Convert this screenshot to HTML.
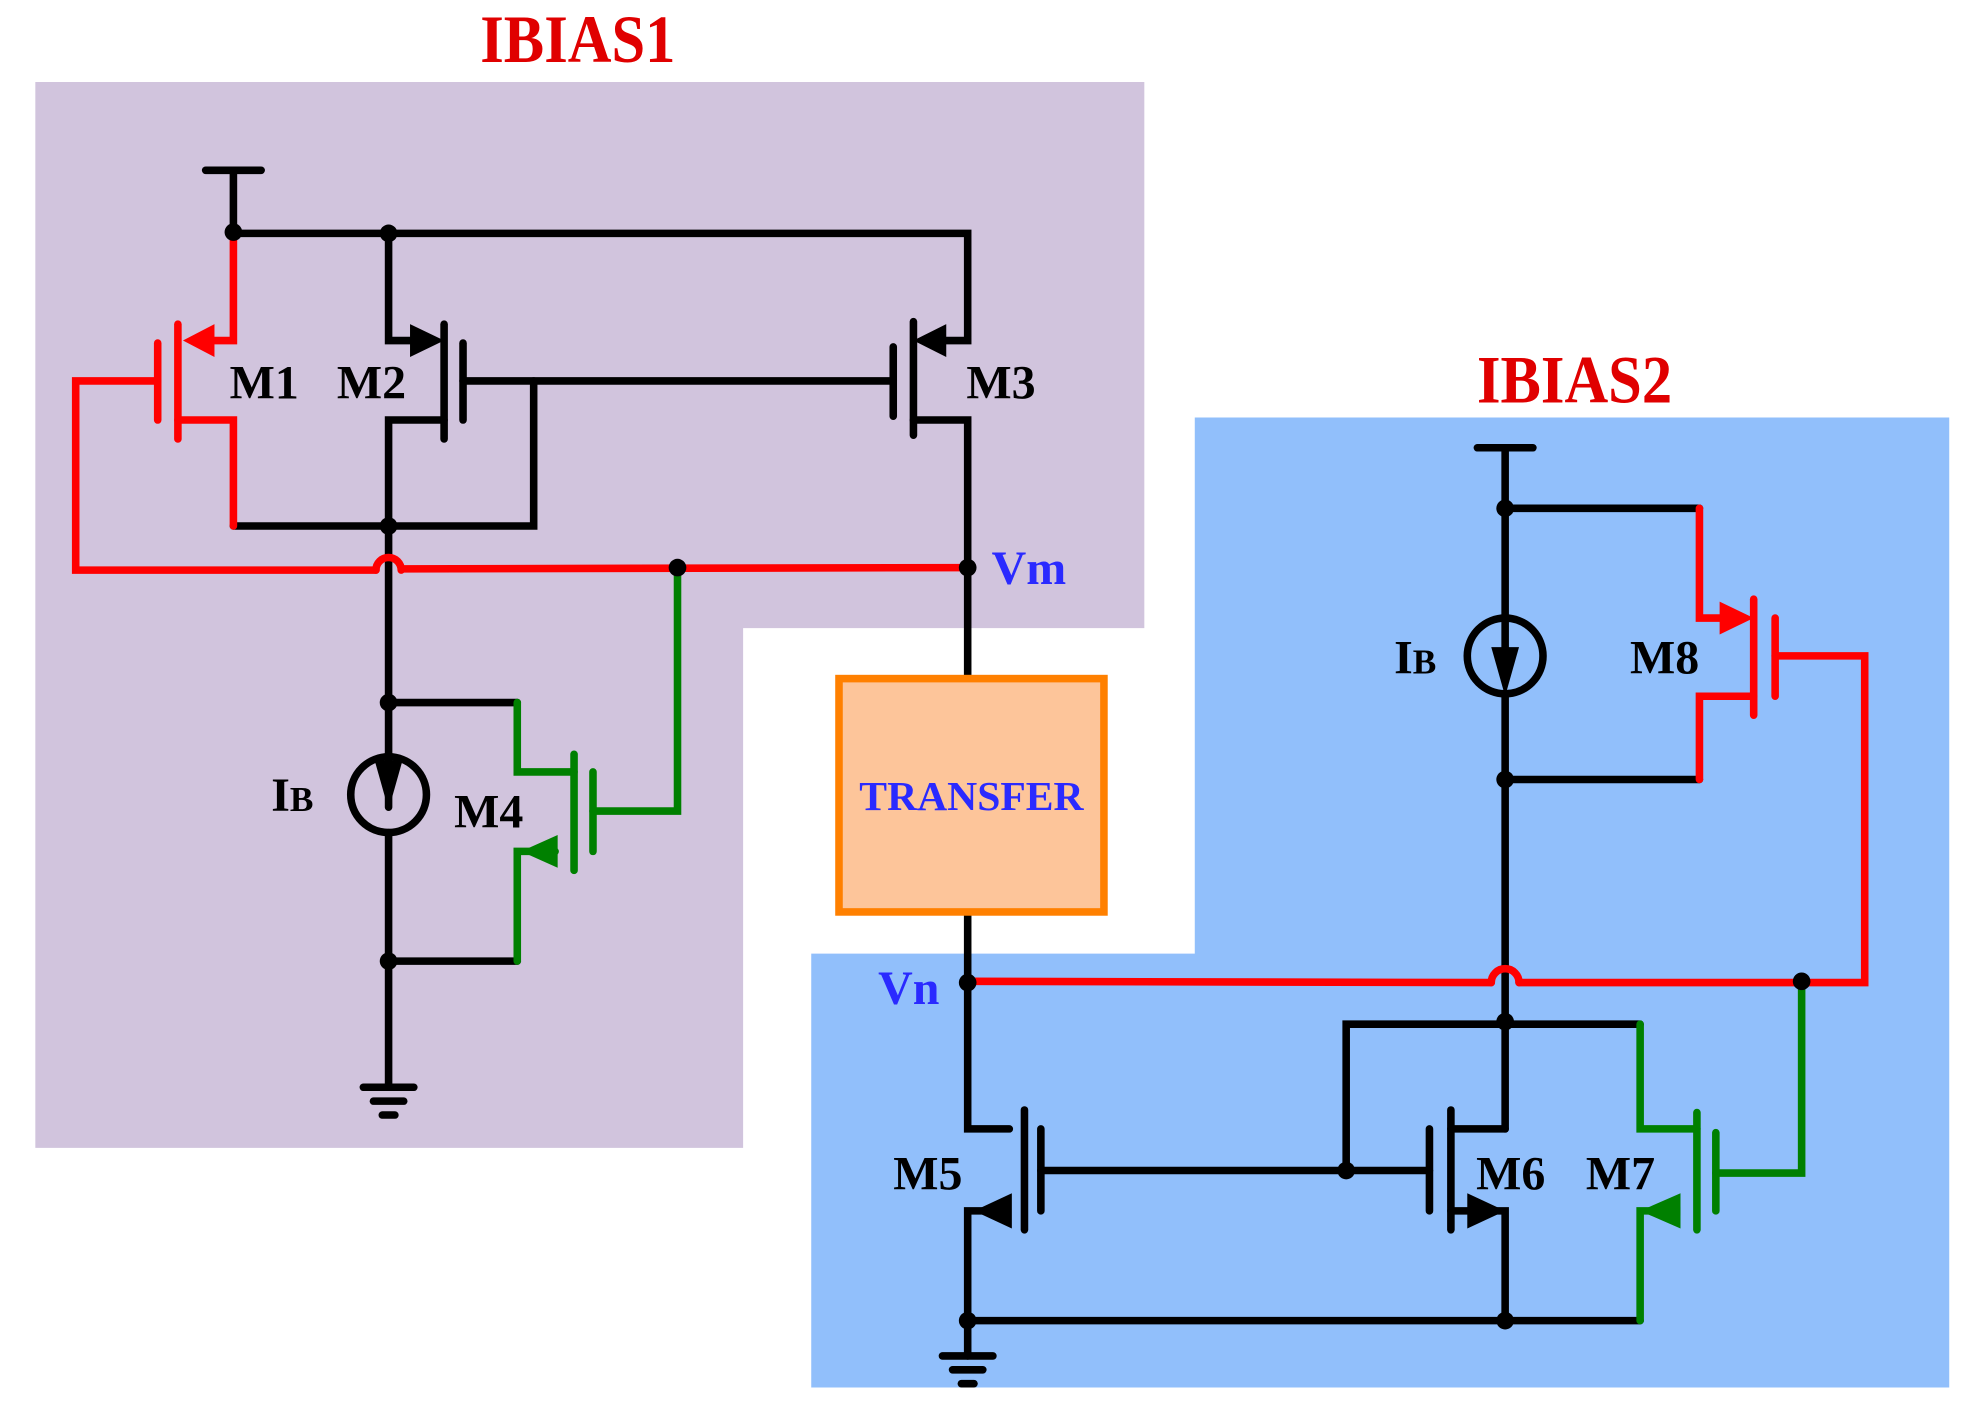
<!DOCTYPE html>
<html><head><meta charset="utf-8"><style>
html,body{margin:0;padding:0;background:#fff;}
svg{display:block;}
text{font-family:"Liberation Serif",serif;font-weight:bold;}
</style></head><body>
<svg width="1977" height="1419" viewBox="0 0 1567 1125" preserveAspectRatio="none" xmlns="http://www.w3.org/2000/svg">
<polygon points="28,65 907,65 907,498 589,498 589,910 28,910" fill="#d1c4dd"/>
<polygon points="947,331 1545,331 1545,1100 643,1100 643,756 947,756" fill="#91bffb"/>
<text x="458" y="49" font-size="48" fill="#e00000" text-anchor="middle" transform="translate(458,49) scale(1,1.12) translate(-458,-49)">IBIAS1</text>
<text x="1248" y="319" font-size="48" fill="#e00000" text-anchor="middle" transform="translate(1248,319) scale(1,1.12) translate(-1248,-319)">IBIAS2</text>

<g stroke-width="6" fill="none" stroke-linecap="round" stroke-linejoin="miter">
<g stroke="#000">
<line x1="163" y1="135" x2="207" y2="135"/>
<line x1="185" y1="135" x2="185" y2="183"/>
<polyline points="185,185 767,185 767,270 740,270"/>
<line x1="724" y1="255" x2="724" y2="345"/>
<line x1="708" y1="275" x2="708" y2="330"/>
<line x1="367" y1="302" x2="708" y2="302"/>
<polyline points="724,333 767,333 767,535"/>
<polyline points="308,185 308,270 330,270"/>
<line x1="352" y1="257" x2="352" y2="348"/>
<line x1="367" y1="272" x2="367" y2="333"/>
<polyline points="423,302 423,417 185,417"/>
<polyline points="352,333 308,333 308,600"/>
<line x1="308" y1="660" x2="308" y2="862"/>
<polyline points="308,557 410,557"/>
<polyline points="308,762 410,762"/>
<line x1="288" y1="862" x2="328" y2="862"/>
<line x1="296" y1="873" x2="320" y2="873"/>
<line x1="303" y1="884" x2="313" y2="884"/>
<circle cx="308" cy="630" r="30"/>
<line x1="308" y1="603" x2="308" y2="640"/>
</g>
<g stroke="#ff0000">
<polyline points="185,188 185,270 165,270"/>
<line x1="141" y1="257" x2="141" y2="348"/>
<line x1="125" y1="272" x2="125" y2="333"/>
<polyline points="125,302 60,302 60,452 298,452"/>
<path d="M298,452 A10,10 0 0 1 318,452"/>
<line x1="318" y1="451" x2="767" y2="450"/>
<polyline points="141,333 185,333 185,417"/>
</g>
<g stroke="#008000">
<polyline points="537,450 537,643 470,643"/>
<line x1="470" y1="612" x2="470" y2="675"/>
<line x1="455" y1="598" x2="455" y2="690"/>
<polyline points="455,612 410,612 410,557"/>
<polyline points="440,675 410,675 410,762"/>
</g>
<g stroke="#000">
<polyline points="767,723 767,895 800,895"/>
<line x1="812" y1="880" x2="812" y2="975"/>
<line x1="825" y1="895" x2="825" y2="960"/>
<line x1="825" y1="928" x2="1133" y2="928"/>
<polyline points="790,960 767,960 767,1075"/>
<line x1="747" y1="1075" x2="787" y2="1075"/>
<line x1="755" y1="1086" x2="779" y2="1086"/>
<line x1="762" y1="1097" x2="772" y2="1097"/>
<line x1="767" y1="1047" x2="1300" y2="1047"/>
<line x1="1171" y1="355" x2="1215" y2="355"/>
<line x1="1193" y1="355" x2="1193" y2="490"/>
<line x1="1193" y1="550" x2="1193" y2="895"/>
<circle cx="1193" cy="520" r="30"/>
<line x1="1193" y1="493" x2="1193" y2="530"/>
<line x1="1193" y1="403" x2="1347" y2="403"/>
<line x1="1193" y1="618" x2="1347" y2="618"/>
<polyline points="1067,928 1067,812 1300,812"/>
<polyline points="1193,895 1150,895"/>
<line x1="1150" y1="880" x2="1150" y2="975"/>
<line x1="1133" y1="895" x2="1133" y2="960"/>
<polyline points="1150,960 1193,960 1193,1047"/>
</g>
<g stroke="#ff0000">
<line x1="767" y1="778" x2="1182" y2="779"/>
<path d="M1182,779 A11,11 0 0 1 1204,779"/>
<polyline points="1204,779 1478,779 1478,520 1407,520"/>
<polyline points="1347,403 1347,490 1370,490"/>
<line x1="1390" y1="475" x2="1390" y2="567"/>
<line x1="1407" y1="490" x2="1407" y2="552"/>
<polyline points="1390,552 1347,552 1347,618"/>
</g>
<g stroke="#008000">
<polyline points="1428,778 1428,930 1360,930"/>
<line x1="1360" y1="898" x2="1360" y2="960"/>
<line x1="1345" y1="882" x2="1345" y2="975"/>
<polyline points="1300,812 1300,895 1345,895"/>
<polyline points="1325,960 1300,960 1300,1047"/>
</g>
</g>
<polygon points="145,270 170,257 170,283" fill="#ff0000"/>
<polygon points="352,270 325,257 325,283" fill="#000"/>
<polygon points="724,270 750,257 750,283" fill="#000"/>
<polygon points="413,675 442,662 442,688" fill="#008000"/>
<polygon points="772,960 802,946 802,974" fill="#000"/>
<polygon points="1193,960 1163,946 1163,974" fill="#000"/>
<polygon points="1300,960 1332,946 1332,974" fill="#008000"/>
<polygon points="1390,490 1363,477 1363,503" fill="#ff0000"/>
<polygon points="308,642 297,603 319,603" fill="#000"/>
<polygon points="1193,552 1182,513 1204,513" fill="#000"/>
<g fill="#000">
<circle cx="185" cy="184" r="7"/><circle cx="308" cy="185" r="7"/>
<circle cx="308" cy="417" r="7"/><circle cx="537" cy="450" r="7"/>
<circle cx="767" cy="450" r="7"/><circle cx="308" cy="557" r="7"/>
<circle cx="308" cy="762" r="7"/><circle cx="767" cy="779" r="7"/>
<circle cx="1193" cy="403" r="7"/><circle cx="1193" cy="618" r="7"/>
<circle cx="1193" cy="810" r="7"/><circle cx="1428" cy="778" r="7"/>
<circle cx="1067" cy="928" r="7"/><circle cx="767" cy="1047" r="7"/>
<circle cx="1193" cy="1047" r="7"/>
</g>
<rect x="665" y="538" width="210" height="185" fill="#fdc59a" stroke="#ff8000" stroke-width="6"/>
<text x="770" y="642" font-size="33" fill="#2a2aff" text-anchor="middle">TRANSFER</text>
<g font-size="38" fill="#000">
<text x="182" y="316">M1</text>
<text x="267" y="316">M2</text>
<text x="766" y="316">M3</text>
<text x="360" y="656">M4</text>
<text x="708" y="943">M5</text>
<text x="1170" y="943">M6</text>
<text x="1257" y="943">M7</text>
<text x="1292" y="534">M8</text>
<text x="215" y="643">I<tspan font-size="28">B</tspan></text>
<text x="1105" y="534">I<tspan font-size="28">B</tspan></text>
</g>
<text x="786" y="463" font-size="38" fill="#2a2aff">Vm</text>
<text x="696" y="796" font-size="38" fill="#2a2aff">Vn</text>
</svg>
</body></html>
